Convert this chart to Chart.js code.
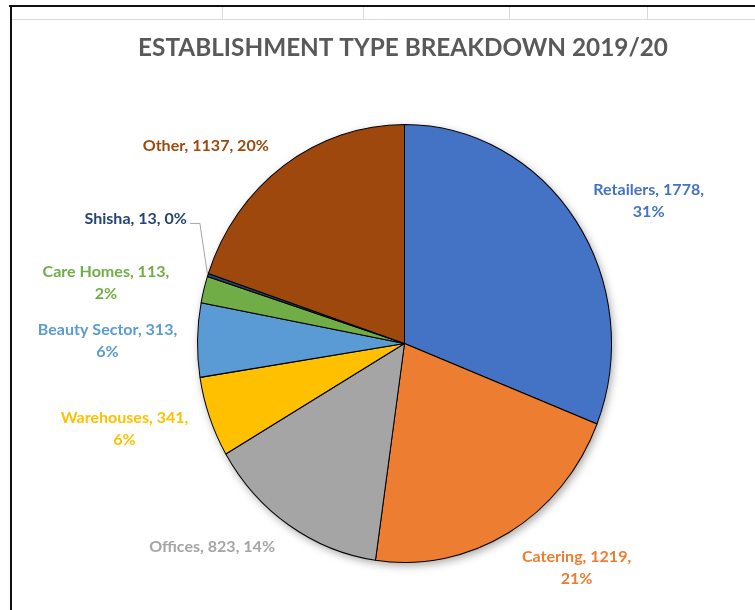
<!DOCTYPE html>
<html>
<head>
<meta charset="utf-8">
<script src="https://cdn.jsdelivr.net/npm/chart.js@4.4.1/dist/chart.umd.min.js"></script>
<style>
  html, body { margin: 0; padding: 0; background: #ffffff; }
  #wrap { width: 755px; height: 610px; }
</style>
</head>
<body>
<div id="wrap"><canvas id="c" width="755" height="610"></canvas></div>
<script>
// ---- data ----
const chartTitle = 'ESTABLISHMENT TYPE BREAKDOWN 2019/20';
const categories = ['Retailers', 'Catering', 'Offices', 'Warehouses', 'Beauty Sector', 'Care Homes', 'Shisha', 'Other'];
const counts = [1778, 1219, 823, 341, 313, 113, 13, 1137];
const percentLabels = ['31%', '21%', '14%', '6%', '6%', '2%', '0%', '20%'];

// ---- styles / layout ----
const sliceColors = ['#4472C4', '#ED7D31', '#A5A5A5', '#FFC000', '#5B9BD5', '#70AD47', '#264478', '#9E480E'];
const wrapPercent = [true, true, false, true, true, true, false, false];
const labelOffsets = [[73, -20], [68, 35], [-77, 22], [-85, 12], [-90, 1], [-98, -7], [-21, -56], [-78, -20]];
const labelAlign = ['center', 'center', 'center', 'center', 'center', 'center', 'right', 'center'];
const leaderIndex = 6;
const yScale = 219.5 / 207.5; // slight vertical stretch as in the reference
const FONT = 'Lato, "Open Sans", sans-serif';

function fitFont(ctx, text, targetWidth, base) {
  ctx.font = 'bold ' + base + 'px ' + FONT;
  const w = ctx.measureText(text).width;
  return base * targetWidth / w;
}

const framePlugin = {
  id: 'frame',
  beforeDraw(chart) {
    const ctx = chart.ctx;
    ctx.save();
    ctx.fillStyle = '#ffffff';
    ctx.fillRect(0, 0, chart.width, chart.height);
    // spreadsheet cell row
    ctx.strokeStyle = '#D9D9D9';
    ctx.lineWidth = 1;
    ctx.beginPath();
    ctx.moveTo(12, 19.5); ctx.lineTo(chart.width, 19.5);
    [222, 363, 509, 647].forEach(x => { ctx.moveTo(x + 0.5, 7); ctx.lineTo(x + 0.5, 19); });
    ctx.stroke();
    // black chart border
    ctx.fillStyle = '#111111';
    ctx.fillRect(9, 5, chart.width - 9, 2);
    ctx.fillRect(10, 5, 2, chart.height - 5);
    // title
    const size = fitFont(ctx, chartTitle, 530, 22);
    ctx.font = 'bold ' + size + 'px ' + FONT;
    ctx.fillStyle = '#595959';
    ctx.textAlign = 'center';
    ctx.textBaseline = 'middle';
    ctx.fillText(chartTitle, 403, 48);
    ctx.restore();
  },
  beforeDatasetDraw(chart) {
    const meta = chart.getDatasetMeta(0);
    const el = meta.data[0];
    if (!el) return;
    const ctx = chart.ctx;
    const cx = el.x, cy = el.y, R = el.outerRadius;
    // soft shadow under the pie
    ctx.save();
    ctx.translate(cx, cy); ctx.scale(1, yScale);
    ctx.shadowColor = 'rgba(0,0,0,0.35)';
    ctx.shadowBlur = 9;
    ctx.shadowOffsetX = 2;
    ctx.shadowOffsetY = 3;
    ctx.beginPath();
    ctx.arc(0, 0, R, 0, Math.PI * 2);
    ctx.fillStyle = '#ffffff';
    ctx.fill();
    ctx.restore();
    // stretch for the slices
    ctx.save();
    ctx.translate(cx, cy); ctx.scale(1, yScale); ctx.translate(-cx, -cy);
  },
  afterDatasetDraw(chart) {
    chart.ctx.restore();
  },
  afterDatasetsDraw(chart) {
    const ctx = chart.ctx;
    const meta = chart.getDatasetMeta(0);
    ctx.save();
    const size = fitFont(ctx, categories[2] + ', ' + counts[2] + ', ' + percentLabels[2], 126, 14);
    ctx.font = 'bold ' + size + 'px ' + FONT;
    ctx.textBaseline = 'middle';
    const lineH = 22;
    meta.data.forEach((el, i) => {
      const mid = (el.startAngle + el.endAngle) / 2;
      const R = el.outerRadius;
      const ex = el.x + R * Math.cos(mid);
      const ey = el.y + R * Math.sin(mid) * yScale;
      const lx = ex + labelOffsets[i][0];
      const ly = ey + labelOffsets[i][1];
      const lines = wrapPercent[i]
        ? [categories[i] + ', ' + counts[i] + ',', percentLabels[i]]
        : [categories[i] + ', ' + counts[i] + ', ' + percentLabels[i]];
      ctx.fillStyle = sliceColors[i];
      ctx.textAlign = labelAlign[i];
      const top = ly - (lines.length - 1) * lineH / 2;
      lines.forEach((t, k) => ctx.fillText(t, lx, top + k * lineH));
      if (i === leaderIndex) {
        ctx.strokeStyle = '#A6A6A6';
        ctx.lineWidth = 1;
        ctx.beginPath();
        ctx.moveTo(lx + 3, ly + 4.5);
        ctx.lineTo(lx + 13, ly + 4.5);
        ctx.lineTo(ex - 0.5, ey - 1);
        ctx.stroke();
      }
    });
    ctx.restore();
  }
};

new Chart(document.getElementById('c'), {
  type: 'pie',
  data: {
    labels: categories,
    datasets: [{
      data: counts,
      backgroundColor: sliceColors,
      borderColor: '#000000',
      borderWidth: 1
    }]
  },
  options: {
    responsive: false,
    animation: false,
    layout: { padding: { left: 197, right: 143, top: 136, bottom: 59 } },
    plugins: {
      legend: { display: false },
      tooltip: { enabled: false },
      title: { display: false }
    }
  },
  plugins: [framePlugin]
});
</script>
</body>
</html>
